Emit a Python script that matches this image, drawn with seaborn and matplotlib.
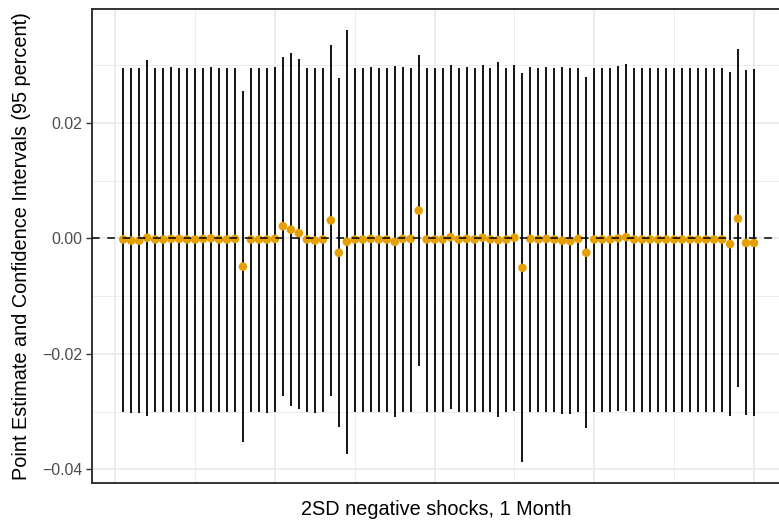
import matplotlib
matplotlib.use("Agg")
import matplotlib.pyplot as plt
import seaborn as sns
import numpy as np
import pandas as pd

# ---- data ----
shock_index = list(range(1, 81))

estimate = [
    -0.0002, -0.0004, -0.0004, 0.0001, -0.0002, -0.0002, -0.0001, -0.0001, -0.0002, -0.0002,
    -0.0001, 0.0000, -0.0002, -0.0002, -0.0001, -0.0049, -0.0002, -0.0002, -0.0002, -0.0001,
    0.0021, 0.0015, 0.0009, -0.0002, -0.0004, -0.0002, 0.0031, -0.0025, -0.0006, -0.0002,
    -0.0002, -0.0001, -0.0002, -0.0002, -0.0006, -0.0001, -0.0001, 0.0048, -0.0002, -0.0002,
    -0.0002, 0.0002, -0.0002, -0.0001, -0.0002, 0.0001, -0.0002, -0.0003, -0.0002, 0.0001,
    -0.0051, -0.0001, -0.0002, -0.0001, -0.0002, -0.0004, -0.0005, -0.0001, -0.0025, -0.0002,
    -0.0002, -0.0002, 0.0000, 0.0002, -0.0002, -0.0002, -0.0002, -0.0002, -0.0002, -0.0002,
    -0.0002, -0.0002, -0.0002, -0.0002, -0.0002, -0.0002, -0.0010, 0.0034, -0.0008, -0.0008,
]

upper = [
    0.0295, 0.0294, 0.0294, 0.0308, 0.0295, 0.0295, 0.0297, 0.0295, 0.0295, 0.0295,
    0.0295, 0.0297, 0.0295, 0.0295, 0.0295, 0.0255, 0.0295, 0.0295, 0.0294, 0.0297,
    0.0314, 0.0321, 0.0311, 0.0295, 0.0294, 0.0295, 0.0335, 0.0277, 0.0361, 0.0295,
    0.0295, 0.0297, 0.0295, 0.0295, 0.0298, 0.0297, 0.0295, 0.0317, 0.0295, 0.0295,
    0.0295, 0.0300, 0.0295, 0.0297, 0.0295, 0.0300, 0.0295, 0.0305, 0.0295, 0.0300,
    0.0286, 0.0297, 0.0295, 0.0297, 0.0295, 0.0297, 0.0294, 0.0295, 0.0279, 0.0295,
    0.0295, 0.0295, 0.0299, 0.0301, 0.0295, 0.0295, 0.0295, 0.0295, 0.0295, 0.0295,
    0.0295, 0.0295, 0.0295, 0.0295, 0.0295, 0.0295, 0.0287, 0.0327, 0.0291, 0.0293,
]

lower = [
    -0.0301, -0.0303, -0.0303, -0.0308, -0.0301, -0.0301, -0.0301, -0.0301, -0.0301, -0.0301,
    -0.0301, -0.0300, -0.0301, -0.0301, -0.0301, -0.0353, -0.0301, -0.0301, -0.0303, -0.0301,
    -0.0273, -0.0291, -0.0295, -0.0301, -0.0303, -0.0301, -0.0273, -0.0327, -0.0374, -0.0301,
    -0.0301, -0.0300, -0.0301, -0.0301, -0.0310, -0.0300, -0.0301, -0.0221, -0.0300, -0.0300,
    -0.0300, -0.0296, -0.0300, -0.0300, -0.0300, -0.0300, -0.0300, -0.0310, -0.0300, -0.0299,
    -0.0388, -0.0300, -0.0300, -0.0300, -0.0300, -0.0304, -0.0304, -0.0300, -0.0329, -0.0300,
    -0.0300, -0.0300, -0.0299, -0.0299, -0.0300, -0.0300, -0.0300, -0.0300, -0.0300, -0.0300,
    -0.0300, -0.0300, -0.0300, -0.0300, -0.0300, -0.0300, -0.0307, -0.0258, -0.0306, -0.0308,
]

y_ticks = [-0.04, -0.02, 0.00, 0.02]
y_tick_labels = ["\u22120.04", "\u22120.02", "0.00", "0.02"]
x_label = "2SD negative shocks, 1 Month"
y_label = "Point Estimate and Confidence Intervals (95 percent)"

df = pd.DataFrame({"idx": shock_index, "est": estimate, "lo": lower, "hi": upper})

# ---- style ----
sns.set_style("white")
plt.rcParams["font.family"] = ["Liberation Sans", "DejaVu Sans"]

W, H = 779, 525
fig = plt.figure(figsize=(W / 100, H / 100), dpi=100)
left_px, right_px, top_px, bottom_px = 91.7, 785.5, 9.0, 483.3
ax = fig.add_axes([left_px / W, 1 - bottom_px / H,
                   (right_px - left_px) / W, (bottom_px - top_px) / H])

# error bars
ax.vlines(df["idx"], df["lo"], df["hi"], color="black", linewidth=1.3, zorder=2)
# points
sns.scatterplot(data=df, x="idx", y="est", ax=ax, color="#E69F00", s=38,
                linewidth=0, edgecolor="none", zorder=3, legend=False)
# zero line
ax.axhline(0, color="black", linewidth=1.1, linestyle=(0, (5, 5)), zorder=4)

ax.set_xlim(-2.95, 83.95)
ax.set_ylim(-0.04240, 0.03969)

ax.set_yticks(y_ticks)
ax.set_yticklabels(y_tick_labels)
ax.set_yticks([-0.03, -0.01, 0.01, 0.03], minor=True)
ax.set_xticks([0, 20, 40, 60, 80])
ax.set_xticks([10, 30, 50, 70], minor=True)
ax.set_xticklabels([])

ax.grid(which="major", color="#EBEBEB", linewidth=1.3, zorder=0)
ax.grid(which="minor", color="#EBEBEB", linewidth=0.65, zorder=0)
ax.set_axisbelow(True)

ax.tick_params(axis="x", which="both", length=0, labelbottom=False)
ax.tick_params(axis="y", which="major", length=4.1, width=1.0, color="#333333",
               labelsize=11.4, labelcolor="#4D4D4D", pad=2.4, left=True)
ax.tick_params(axis="y", which="minor", length=0)

for s in ax.spines.values():
    s.set_color("#333333")
    s.set_linewidth(1.4)
    s.set_visible(True)

ax.set_xlabel(x_label, fontsize=14.3, color="black", va="baseline")
ax.xaxis.set_label_coords((436.7 - left_px) / (right_px - left_px),
                          (bottom_px - 515) / (bottom_px - top_px))
ax.set_ylabel(y_label, fontsize=14.3, color="black", ha="center", va="center")
ax.yaxis.set_label_coords((21.7 - left_px) / (right_px - left_px), 0.5)

fig.savefig("out.png", dpi=100)
